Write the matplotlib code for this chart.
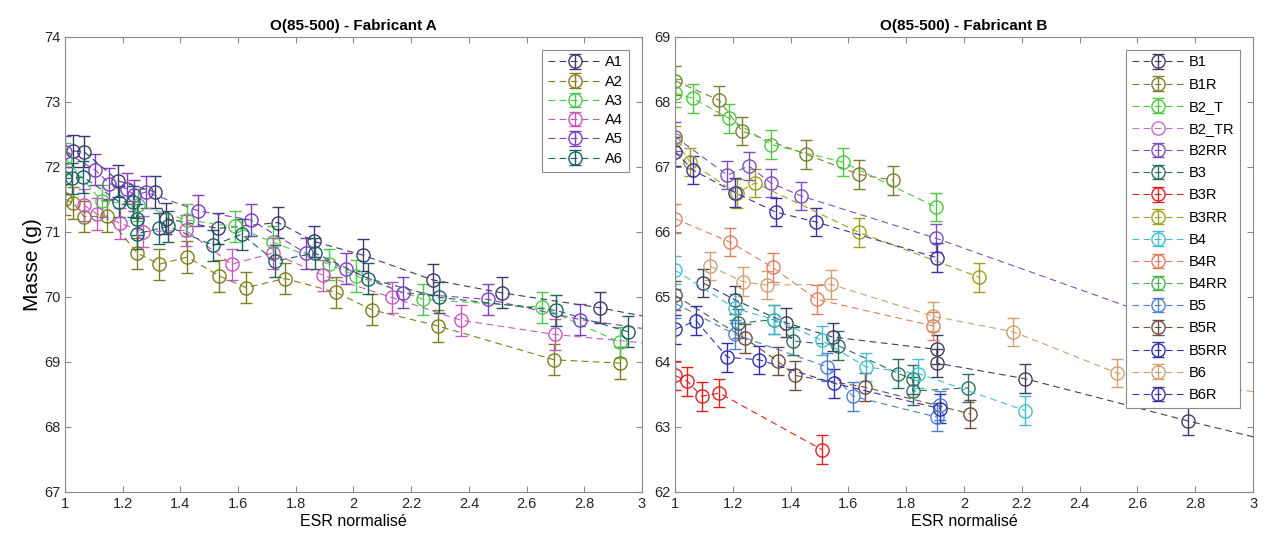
import numpy as np
import matplotlib
matplotlib.use('Agg')
import matplotlib.pyplot as plt

matplotlib.rcParams.update({
    'font.family': ['Liberation Sans', 'DejaVu Sans'],
    'font.size': 10.5,
})

# ---- Fabricant A ----
A_names = ['A1', 'A2', 'A3', 'A4', 'A5', 'A6']
A_colors = ['#3B3B6B', '#7F7F1F', '#4CC84C', '#C858C0', '#7F3FBF', '#1F6060']
A1_x = [1.029, 1.066, 1.185, 1.312, 1.35, 1.531, 1.739, 1.863, 2.032, 2.274, 2.514, 2.854, 3.1]
A1_y = [72.24, 72.23, 71.78, 71.61, 71.20, 71.05, 71.14, 70.85, 70.64, 70.26, 70.06, 69.83, 69.62]
A2_x = [1.0, 1.029, 1.066, 1.145, 1.251, 1.327, 1.424, 1.535, 1.627, 1.763, 1.939, 2.063, 2.294, 2.696, 2.924]
A2_y = [71.50, 71.44, 71.23, 71.24, 70.67, 70.50, 70.61, 70.32, 70.14, 70.28, 70.07, 69.80, 69.55, 69.03, 68.98]
A3_x = [1.0, 1.127, 1.254, 1.422, 1.589, 1.72, 1.916, 2.009, 2.242, 2.652, 2.924]
A3_y = [72.13, 71.47, 71.41, 71.18, 71.08, 70.84, 70.50, 70.32, 69.96, 69.84, 69.30]
A4_x = [1.066, 1.11, 1.191, 1.271, 1.419, 1.578, 1.72, 1.895, 2.132, 2.372, 2.698, 3.1]
A4_y = [71.41, 71.27, 71.13, 71.00, 71.02, 70.50, 70.67, 70.33, 69.99, 69.64, 69.42, 69.25]
A5_x = [1.0, 1.104, 1.154, 1.214, 1.239, 1.281, 1.462, 1.644, 1.835, 1.974, 2.17, 2.465, 2.785, 3.1]
A5_y = [72.23, 71.95, 71.74, 71.66, 71.56, 71.61, 71.32, 71.18, 70.67, 70.43, 70.06, 69.96, 69.65, 69.45]
A6_x = [1.0, 1.023, 1.063, 1.188, 1.235, 1.251, 1.251, 1.327, 1.358, 1.514, 1.612, 1.728, 1.867, 2.051, 2.297, 2.702, 2.953]
A6_y = [71.82, 71.82, 71.84, 71.46, 71.46, 71.19, 70.97, 71.05, 71.08, 70.79, 70.96, 70.55, 70.67, 70.28, 69.99, 69.79, 69.46]
A_err = 0.24

# ---- Fabricant B ----
B_names = ['B1', 'B1R', 'B2_T', 'B2_TR', 'B2RR', 'B3', 'B3R', 'B3RR',
           'B4', 'B4R', 'B4RR', 'B5', 'B5R', 'B5RR', 'B6', 'B6R']
B_colors = ['#3F3F5F', '#7F7F2F', '#4CC83C', '#C070C8', '#7F4FBF', '#2F6F5F', '#E02020', '#A0A020',
            '#40C0D0', '#E07F5F', '#4FB04F', '#4F7FD0', '#6F4F3F', '#2F2FAF', '#D0A070', '#3F2F9F']
B1_x = [1.098, 1.208, 1.384, 1.546, 1.906, 1.906, 2.211, 2.776, 3.2]
B1_y = [65.21, 64.95, 64.60, 64.38, 64.19, 63.98, 63.74, 63.09, 62.63]
B1R_x = [1.0, 1.153, 1.231, 1.453, 1.636, 1.755]
B1R_y = [68.32, 68.02, 67.55, 67.19, 66.88, 66.79]
B2T_x = [1.0, 1.061, 1.188, 1.331, 1.58, 1.902]
B2T_y = [68.13, 68.05, 67.74, 67.34, 67.07, 66.38]
B2TR_x = []
B2TR_y = []
B2RR_x = [1.0, 1.181, 1.256, 1.331, 1.436, 1.902, 2.85]
B2RR_y = [67.46, 66.87, 67.01, 66.75, 66.55, 65.90, 64.40]
B3_x = [1.219, 1.343, 1.409, 1.563, 1.773, 1.822, 1.822, 2.015]
B3_y = [64.59, 64.65, 64.32, 64.25, 63.82, 63.73, 63.55, 63.60]
B3R_x = [1.0, 1.043, 1.092, 1.153, 1.508]
B3R_y = [63.79, 63.70, 63.47, 63.52, 62.65]
B3RR_x = [1.0, 1.052, 1.213, 1.277, 1.636, 2.053]
B3RR_y = [67.41, 67.07, 66.59, 66.75, 65.99, 65.30]
B4_x = [1.0, 1.208, 1.343, 1.508, 1.661, 1.842, 2.211]
B4_y = [65.41, 64.82, 64.65, 64.33, 63.92, 63.82, 63.25]
B4R_x = [1.0, 1.19, 1.338, 1.49, 1.894]
B4R_y = [66.20, 65.84, 65.45, 64.96, 64.55]
B4RR_x = [np.nan]
B4RR_y = [np.nan]
B5_x = [1.0, 1.208, 1.527, 1.615, 1.906, 1.917]
B5_y = [64.90, 64.42, 63.92, 63.47, 63.15, 63.33]
B5R_x = [1.0, 1.242, 1.355, 1.415, 1.657, 2.021]
B5R_y = [65.02, 64.36, 64.01, 63.79, 63.61, 63.20]
B5RR_x = [1.0, 1.073, 1.181, 1.292, 1.55, 1.917]
B5RR_y = [64.50, 64.63, 64.07, 64.03, 63.67, 63.28]
B6_x = [1.121, 1.236, 1.317, 1.539, 1.894, 2.171, 2.528, 3.1]
B6_y = [65.47, 65.23, 65.18, 65.19, 64.70, 64.46, 63.83, 63.48]
B6R_x = [1.0, 1.061, 1.208, 1.349, 1.487, 1.906]
B6R_y = [67.23, 66.95, 66.60, 66.30, 66.15, 65.60]
B_err = 0.22

A_data = [(A1_x, A1_y), (A2_x, A2_y), (A3_x, A3_y), (A4_x, A4_y), (A5_x, A5_y), (A6_x, A6_y)]
B_data = [(B1_x, B1_y), (B1R_x, B1R_y), (B2T_x, B2T_y), (B2TR_x, B2TR_y), (B2RR_x, B2RR_y),
          (B3_x, B3_y), (B3R_x, B3R_y), (B3RR_x, B3RR_y), (B4_x, B4_y), (B4R_x, B4R_y),
          (B4RR_x, B4RR_y), (B5_x, B5_y), (B5R_x, B5R_y), (B5RR_x, B5RR_y), (B6_x, B6_y), (B6R_x, B6R_y)]

fig = plt.figure(figsize=(12.67, 5.49), dpi=100)
axA = fig.add_axes([0.0513, 0.104, 0.4554, 0.8295])
axB = fig.add_axes([0.5328, 0.104, 0.4562, 0.8295])


def draw(ax, data, names, colors, err):
    handles = []
    for (x, y), name, c in zip(data, names, colors):
        if len(x) == 0:
            h, = ax.plot(x, y, 'o--', color=c, mfc='none', ms=9.5, lw=0.8,
                         dashes=(6, 4), label=name)
        else:
            h = ax.errorbar(x, y, yerr=err, fmt='o--', color=c, mfc='none', ms=9.5, mew=1.0,
                            lw=0.8, dashes=(6, 4), elinewidth=1.0, capsize=4.5, capthick=1.0,
                            label=name)
        handles.append(h)
    return handles


def style(ax, title, ylim):
    ax.set_xlim(1, 3)
    ax.set_ylim(*ylim)
    ax.set_xticks(np.arange(1, 3.01, 0.2))
    ax.set_xticklabels(['1', '1.2', '1.4', '1.6', '1.8', '2', '2.2', '2.4', '2.6', '2.8', '3'])
    ax.set_yticks(np.arange(ylim[0], ylim[1] + 0.5, 1))
    ax.tick_params(direction='in', top=True, right=True, length=4, color='#8a8a8a',
                   labelcolor='#262626', labelsize=10.5)
    for s in ax.spines.values():
        s.set_color('#8a8a8a')
    ax.set_title(title, fontweight='bold', fontsize=11, pad=5)
    ax.set_xlabel('ESR normalisé', fontsize=11.5, labelpad=2)


hA = draw(axA, A_data, A_names, A_colors, A_err)
hB = draw(axB, B_data, B_names, B_colors, B_err)
style(axA, 'O(85-500) - Fabricant A', (67, 74))
style(axB, 'O(85-500) - Fabricant B', (62, 69))
axA.set_ylabel('Masse (g)', fontsize=15, labelpad=1)

for ax, hs, names, sp in ((axA, hA, A_names, 0.36), (axB, hB, B_names, 0.56)):
    leg = ax.legend(hs, names, loc='upper right', fontsize=10.5, fancybox=False, framealpha=1,
                    edgecolor='#8a8a8a', handlelength=3.6, handletextpad=0.3,
                    borderaxespad=0.9, labelspacing=sp)
    leg.get_frame().set_linewidth(0.8)
    leg.set_zorder(10)

fig.savefig('out.png', dpi=100)
